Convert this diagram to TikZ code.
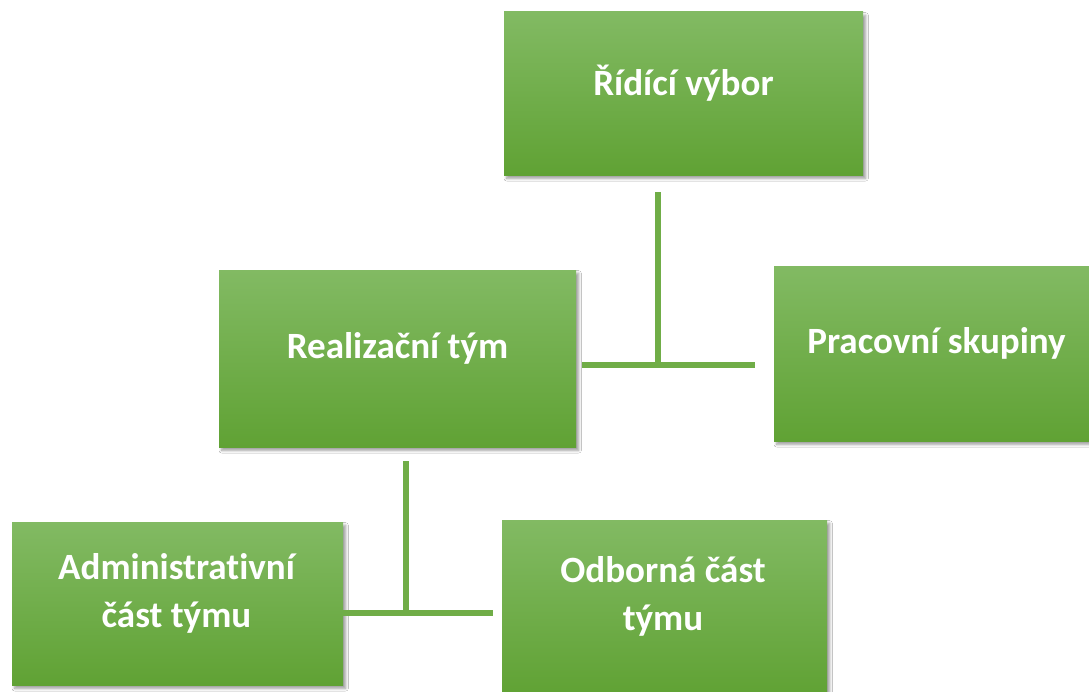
\documentclass[tikz,border=0pt]{standalone}
\usepackage{fontspec}
\setmainfont{Carlito}[Ligatures={NoCommon}]
\usetikzlibrary{fit,shadows.blur,calc}
\definecolor{gtop}{RGB}{130,186,99}
\definecolor{gbot}{RGB}{96,162,52}
\definecolor{gline}{RGB}{112,173,71}
\tikzset{
  box/.style={rectangle, inner sep=0pt, draw=none, top color=gtop, bottom color=gbot,
    blur shadow={shadow xshift=2pt, shadow yshift=-2.5pt, shadow blur radius=2pt, shadow blur steps=6, shadow opacity=40}},
  lbl/.style={text=white, font=\fontsize{27.8}{36}\selectfont\bfseries, align=center, anchor=base, inner sep=0pt},
  conn/.style={draw=gline, line width=4.5pt}
}
\begin{document}
\begin{tikzpicture}[x=0.75pt,y=-0.75pt]
\useasboundingbox (0,0) rectangle (1089,692);
\fill[white] (0,0) rectangle (1089,692);
\node[box, fit={(504,12) (863,175)}] (R) {};
\node[box, fit={(219,270) (576,447)}] (RT) {};
\node[box, fit={(774,266) (1099,441)}] (PS) {};
\node[box, fit={(12,522) (343,685)}] (AD) {};
\node[box, fit={(502,520) (827,695)}] (OD) {};
\node[lbl] (Rl) at (683.5,95) {Řídící výbor};
\node[lbl] (RTl) at (397.5,358) {Realizační tým};
\node[lbl] (PSl) at (936.5,353) {Pracovní skupiny};
\node[lbl] (ADl) at (176.5,627) {Administrativní\\část týmu};
\node[lbl] (ODl) at (663,630) {Odborná část\\týmu};
\coordinate (j1) at (658,364.5);
\coordinate (j2) at (406,612.5);
\draw[conn] ($(R.south -| j1)+(0,17)$) -- (j1);
\draw[conn] ($(RT.east |- j1)+(6,0)$) -- ($(PS.west |- j1)+(-19,0)$);
\draw[conn] ($(RT.south -| j2)+(0,14)$) -- (j2);
\draw[conn] (AD.east |- j2) -- ($(OD.west |- j2)+(-9,0)$);
\end{tikzpicture}
\end{document}
